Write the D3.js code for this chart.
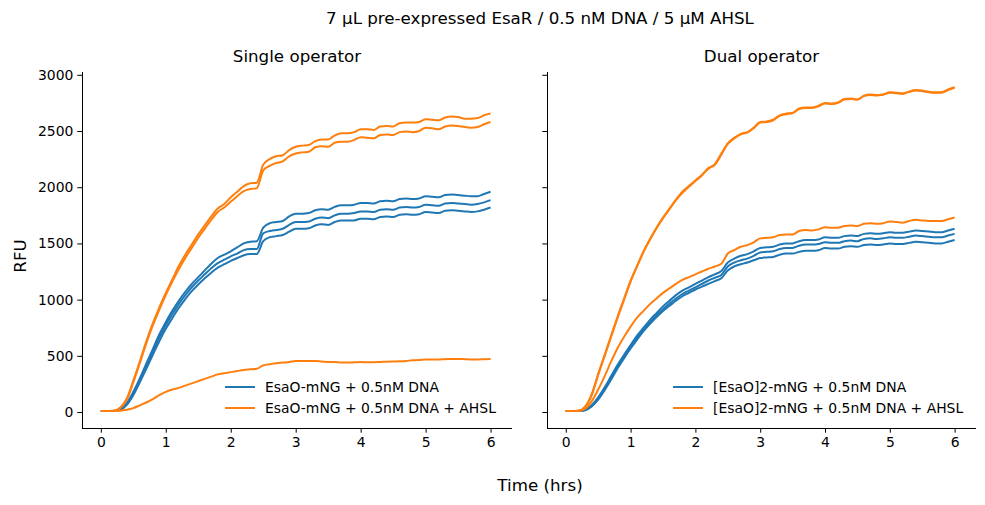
<!DOCTYPE html>
<html>
<head>
<meta charset="utf-8">
<script src="https://cdn.jsdelivr.net/npm/d3@7"></script>
<style>
  body { margin: 0; background: #fff; }
  text { font-family: "DejaVu Sans", sans-serif; fill: #000; }
</style>
</head>
<body>
<svg id="svg" width="985" height="505"></svg>
<script>
// time points (hours)
const time = [0,0.1,0.2,0.3,0.4,0.5,0.6,0.7,0.8,0.9,
  1,1.1,1.2,1.3,1.4,1.5,1.6,1.7,1.8,1.9,
  2,2.1,2.2,2.3,2.4,2.5,2.6,2.7,2.8,2.9,
  3,3.1,3.2,3.3,3.4,3.5,3.6,3.7,3.8,3.9,
  4,4.1,4.2,4.3,4.4,4.5,4.6,4.7,4.8,4.9,
  5,5.1,5.2,5.3,5.4,5.5,5.6,5.7,5.8,5.9,6];

// single operator, no AHSL (3 replicates)
const singleDna1 = [10,10,10,25,80,180,300,430,560,690,
  800,900,990,1070,1140,1200,1260,1320,1370,1400,
  1430,1465,1500,1515,1520,1640,1680,1690,1700,1740,
  1765,1765,1770,1795,1805,1800,1825,1840,1840,1845,
  1860,1860,1855,1875,1880,1875,1895,1900,1895,1900,
  1920,1915,1910,1930,1935,1930,1925,1920,1920,1940,1960];
const singleDna2 = [10,10,10,22,72,165,285,410,540,665,
  775,870,960,1040,1110,1170,1225,1280,1325,1355,
  1385,1410,1440,1450,1450,1590,1610,1620,1630,1665,
  1690,1690,1695,1720,1730,1725,1750,1765,1765,1770,
  1785,1785,1780,1800,1805,1800,1820,1825,1820,1825,
  1845,1840,1835,1855,1860,1855,1850,1845,1850,1865,1885];
const singleDna3 = [10,10,10,20,65,150,265,385,510,630,
  740,835,925,1005,1075,1135,1190,1240,1285,1315,
  1345,1370,1395,1405,1405,1520,1555,1565,1575,1605,
  1630,1630,1635,1660,1670,1665,1690,1705,1705,1705,
  1720,1720,1715,1735,1740,1735,1755,1760,1755,1760,
  1780,1775,1770,1790,1795,1790,1785,1780,1785,1800,1820];

// single operator, + AHSL (3 replicates)
const singleAhsl1 = [10,10,12,40,120,280,450,630,790,930,
  1060,1180,1300,1400,1490,1580,1660,1740,1810,1850,
  1910,1960,2010,2035,2040,2200,2250,2275,2285,2330,
  2360,2370,2375,2410,2425,2425,2460,2480,2480,2490,
  2515,2515,2510,2540,2545,2540,2570,2575,2575,2580,
  2605,2600,2595,2620,2630,2625,2610,2610,2615,2640,2655];
const singleAhsl2 = [10,10,11,35,110,265,435,610,770,910,
  1040,1160,1270,1370,1460,1550,1630,1710,1780,1820,
  1870,1920,1965,1985,1990,2150,2190,2215,2230,2275,
  2300,2310,2315,2355,2365,2360,2395,2405,2405,2420,
  2445,2440,2435,2465,2470,2465,2490,2495,2490,2500,
  2530,2525,2515,2540,2550,2545,2535,2530,2535,2560,2580];
const singleAhsl3 = [10,10,10,12,20,35,60,85,115,150,
  180,200,215,235,255,275,295,315,335,345,
  355,365,375,380,385,415,425,435,440,445,
  455,455,455,455,450,445,445,440,440,442,
  445,443,443,445,448,450,452,455,460,462,
  468,468,468,470,472,472,470,468,468,470,472];

// dual operator, no AHSL
const dualDna1 = [10,10,10,20,60,130,220,320,420,510,
  595,680,750,820,880,940,990,1040,1080,1110,
  1140,1170,1200,1225,1255,1330,1365,1390,1405,1430,
  1460,1465,1470,1490,1500,1500,1520,1530,1530,1535,
  1555,1550,1550,1565,1570,1565,1585,1590,1585,1590,
  1600,1595,1595,1605,1615,1610,1605,1600,1600,1615,1630];
const dualDna2 = [10,10,10,18,55,120,205,305,405,495,
  580,660,735,800,860,915,965,1010,1050,1080,
  1110,1140,1170,1195,1220,1295,1330,1350,1365,1390,
  1420,1425,1430,1450,1460,1460,1480,1490,1490,1495,
  1510,1505,1505,1520,1525,1520,1540,1545,1540,1545,
  1555,1550,1550,1560,1570,1565,1560,1555,1555,1570,1585];
const dualDna3 = [10,10,10,16,50,110,195,290,390,480,
  565,645,720,785,845,900,945,990,1030,1060,
  1090,1115,1140,1165,1190,1260,1295,1315,1330,1350,
  1370,1375,1380,1400,1410,1410,1425,1435,1435,1440,
  1460,1455,1455,1470,1475,1470,1485,1490,1485,1490,
  1500,1495,1495,1505,1515,1510,1505,1500,1500,1515,1530];

// dual operator, + AHSL
const dualAhsl1 = [10,10,12,50,160,340,510,680,850,1010,
  1170,1300,1430,1540,1640,1730,1810,1890,1960,2010,
  2060,2110,2170,2205,2300,2390,2440,2475,2490,2530,
  2580,2585,2600,2640,2655,2660,2700,2710,2710,2725,
  2750,2745,2755,2785,2790,2780,2815,2825,2820,2825,
  2845,2840,2835,2850,2865,2860,2850,2845,2845,2870,2890];
const dualAhsl2 = [10,10,12,45,150,330,500,670,840,1000,
  1160,1295,1425,1535,1635,1725,1805,1885,1950,2005,
  2055,2105,2165,2200,2290,2385,2435,2470,2485,2525,
  2575,2580,2595,2635,2650,2660,2695,2705,2705,2720,
  2745,2740,2750,2780,2785,2780,2810,2820,2815,2825,
  2840,2835,2830,2850,2860,2855,2845,2840,2840,2865,2885];
const dualAhsl3 = [10,10,11,30,95,200,320,450,570,670,
  760,840,900,960,1010,1060,1100,1140,1175,1200,
  1225,1250,1275,1295,1320,1410,1440,1470,1485,1510,
  1545,1550,1555,1575,1580,1580,1610,1620,1615,1625,
  1645,1640,1640,1655,1660,1655,1675,1680,1675,1680,
  1695,1690,1685,1700,1710,1705,1700,1700,1700,1715,1730];

const xTicks = [0,1,2,3,4,5,6];
const yTicks = [0,500,1000,1500,2000,2500,3000];
const blue = "#1f77b4", orange = "#ff7f0e";

const panels = [
  { title: "Single operator", left: 82, right: 512, showY: true,
    dna: [singleDna1, singleDna2, singleDna3],
    ahsl: [singleAhsl1, singleAhsl2, singleAhsl3],
    labels: ["EsaO-mNG + 0.5nM DNA", "EsaO-mNG + 0.5nM DNA + AHSL"],
    legendX: 225 },
  { title: "Dual operator", left: 547, right: 976, showY: false,
    dna: [dualDna1, dualDna2, dualDna3],
    ahsl: [dualAhsl1, dualAhsl2, dualAhsl3],
    labels: ["[EsaO]2-mNG + 0.5nM DNA", "[EsaO]2-mNG + 0.5nM DNA + AHSL"],
    legendX: 673 }
];

const plotTop = 72, plotBottom = 428;
const tickFont = 13.9, titleFont = 16.7;
const svg = d3.select("#svg");

const y = d3.scaleLinear().domain([-142, 3025]).range([plotBottom, plotTop]);

svg.append("text")
  .attr("x", 540).attr("y", 24)
  .attr("text-anchor", "middle").attr("font-size", titleFont)
  .text("7 µL pre-expressed EsaR / 0.5 nM DNA / 5 µM AHSL");

svg.append("text")
  .attr("x", 540).attr("y", 491)
  .attr("text-anchor", "middle").attr("font-size", titleFont)
  .text("Time (hrs)");

svg.append("text")
  .attr("transform", "translate(26,256) rotate(-90)")
  .attr("text-anchor", "middle").attr("font-size", titleFont)
  .text("RFU");

for (const p of panels) {
  const x = d3.scaleLinear().domain([-0.29, 6.33]).range([p.left, p.right]);
  const g = svg.append("g");

  const xAxis = g.append("g")
    .attr("transform", `translate(0,${plotBottom})`)
    .call(d3.axisBottom(x).tickValues(xTicks).tickSize(4.7).tickPadding(4).tickFormat(d3.format("d")));
  const yAxis = g.append("g")
    .attr("transform", `translate(${p.left},0)`)
    .call(d3.axisLeft(y).tickValues(yTicks).tickSize(4.7).tickPadding(4)
      .tickFormat(p.showY ? d3.format("d") : ""));
  for (const a of [xAxis, yAxis]) {
    a.select(".domain").remove();
    a.selectAll("line").attr("stroke", "#000").attr("stroke-width", 1);
    a.selectAll("text").attr("font-size", tickFont).attr("font-family", "DejaVu Sans").attr("fill", "#000");
  }
  g.append("line").attr("x1", p.left).attr("x2", p.right)
    .attr("y1", plotBottom + 0.5).attr("y2", plotBottom + 0.5).attr("stroke", "#000");
  g.append("line").attr("x1", p.left + 0.5).attr("x2", p.left + 0.5)
    .attr("y1", plotTop).attr("y2", plotBottom).attr("stroke", "#000");

  const line = d3.line()
    .x((d, i) => x(time[i]))
    .y(d => y(d))
    .curve(d3.curveMonotoneX);

  p.dna.forEach(s => {
    g.append("path").attr("d", line(s)).attr("fill", "none")
      .attr("stroke", blue).attr("stroke-width", 2);
  });
  p.ahsl.forEach(s => {
    g.append("path").attr("d", line(s)).attr("fill", "none")
      .attr("stroke", orange).attr("stroke-width", 2);
  });

  g.append("text")
    .attr("x", (p.left + p.right) / 2).attr("y", 62)
    .attr("text-anchor", "middle").attr("font-size", titleFont)
    .text(p.title);

  // legend
  [blue, orange].forEach((c, i) => {
    const ly = 387 + i * 21;
    g.append("line").attr("x1", p.legendX).attr("x2", p.legendX + 30)
      .attr("y1", ly).attr("y2", ly).attr("stroke", c).attr("stroke-width", 2);
    g.append("text").attr("x", p.legendX + 40).attr("y", ly + 5)
      .attr("font-size", tickFont).text(p.labels[i]);
  });
}
</script>
</body>
</html>
